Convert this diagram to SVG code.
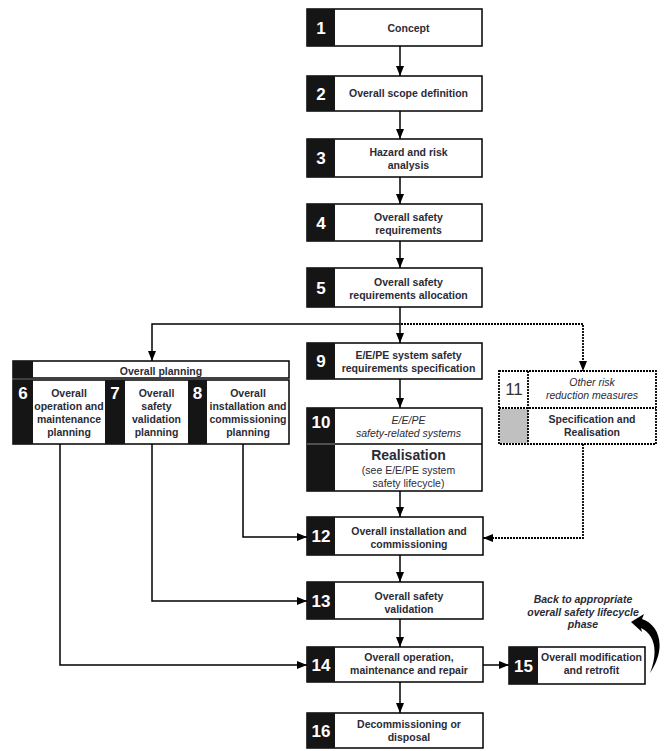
<svg xmlns="http://www.w3.org/2000/svg" width="666" height="751" viewBox="0 0 666 751">
  <style>
    .box { fill: #fff; stroke: #000; stroke-width: 1.5; }
    .blk { fill: #151515; }
    .t { font-family: "Liberation Sans", Arial, sans-serif; font-size: 10.5px; font-weight: bold; fill: #2b2b36; text-anchor: middle; }
    .it { font-family: "Liberation Sans", Arial, sans-serif; font-size: 10.5px; font-style: italic; fill: #2b2b36; text-anchor: middle; }
    .rg { font-family: "Liberation Sans", Arial, sans-serif; font-size: 10.5px; fill: #2b2b36; text-anchor: middle; }
    .n { font-family: "Liberation Sans", Arial, sans-serif; font-size: 17px; font-weight: bold; fill: #fff; text-anchor: middle; }
    .w { fill: none; stroke: #000; stroke-width: 1.5; }
    .d { fill: none; stroke: #000; stroke-width: 1.8; stroke-dasharray: 2 1; }
    .dbox { fill: #fff; stroke: #000; stroke-width: 1.8; stroke-dasharray: 2 1; }
  </style>
  <defs>
    <marker id="ah" markerUnits="userSpaceOnUse" markerWidth="10" markerHeight="10" viewBox="0 0 10 10" refX="10" refY="5" orient="auto">
      <path d="M0,1 L10,5 L0,9 Z" fill="#000"/>
    </marker>
  </defs>
  <rect width="666" height="751" fill="#fff"/>

  <!-- connectors -->
  <g id="connectors">
    <line class="w" x1="400" y1="46" x2="400" y2="76" marker-end="url(#ah)"/>
    <line class="w" x1="400" y1="111" x2="400" y2="139" marker-end="url(#ah)"/>
    <line class="w" x1="400" y1="177" x2="400" y2="204" marker-end="url(#ah)"/>
    <line class="w" x1="400" y1="241" x2="400" y2="268" marker-end="url(#ah)"/>
    <line class="w" x1="400" y1="307" x2="400" y2="343" marker-end="url(#ah)"/>
    <polyline class="w" points="400,324 152,324 152,361" marker-end="url(#ah)"/>
    <polyline class="d" points="401,324 583,324 583,371" marker-end="url(#ah)"/>
    <line class="w" x1="400" y1="379" x2="400" y2="408" marker-end="url(#ah)"/>
    <line class="w" x1="400" y1="491" x2="400" y2="517" marker-end="url(#ah)"/>
    <polyline class="d" points="583,444 583,538 483,538" marker-end="url(#ah)"/>
    <polyline class="w" points="243,444 243,537 307,537" marker-end="url(#ah)"/>
    <polyline class="w" points="152,444 152,601 307,601" marker-end="url(#ah)"/>
    <polyline class="w" points="60,444 60,665 307,665" marker-end="url(#ah)"/>
    <line class="w" x1="400" y1="555" x2="400" y2="582" marker-end="url(#ah)"/>
    <line class="w" x1="400" y1="619" x2="400" y2="647" marker-end="url(#ah)"/>
    <line class="w" x1="483" y1="665" x2="509" y2="665" marker-end="url(#ah)"/>
    <line class="w" x1="400" y1="682" x2="400" y2="713" marker-end="url(#ah)"/>
    <!-- curved return arrow -->
    <path d="M631,622 L644,614 L642,619 C658,624 668,646 650,673 C659,650 654,634 641,628 L642,632 Z" fill="#000"/>
  </g>

  <g id="n1">
    <rect class="box" x="307" y="9" width="175" height="37"/>
    <rect class="blk" x="307" y="9" width="28" height="37"/>
    <text class="n" x="321" y="34">1</text>
    <text class="t" x="408.5" y="32">Concept</text>
  </g>
  <g id="n2">
    <rect class="box" x="307" y="76" width="175" height="35"/>
    <rect class="blk" x="307" y="76" width="28" height="35"/>
    <text class="n" x="321" y="100">2</text>
    <text class="t" x="408.5" y="97">Overall scope definition</text>
  </g>
  <g id="n3">
    <rect class="box" x="307" y="139" width="175" height="38"/>
    <rect class="blk" x="307" y="139" width="28" height="38"/>
    <text class="n" x="321" y="164">3</text>
    <text class="t" x="408.5" y="155.5">Hazard and risk</text>
    <text class="t" x="408.5" y="168.5">analysis</text>
  </g>
  <g id="n4">
    <rect class="box" x="307" y="204" width="175" height="37"/>
    <rect class="blk" x="307" y="204" width="28" height="37"/>
    <text class="n" x="321" y="229">4</text>
    <text class="t" x="408.5" y="221">Overall safety</text>
    <text class="t" x="408.5" y="234">requirements</text>
  </g>
  <g id="n5">
    <rect class="box" x="307" y="268" width="175" height="39"/>
    <rect class="blk" x="307" y="268" width="28" height="39"/>
    <text class="n" x="321" y="294">5</text>
    <text class="t" x="408.5" y="286">Overall safety</text>
    <text class="t" x="408.5" y="299">requirements allocation</text>
  </g>

  <g id="planning">
    <rect class="box" x="13" y="361" width="276" height="17"/>
    <rect class="blk" x="13" y="361" width="20" height="17"/>
    <text class="t" x="161" y="375">Overall planning</text>
    <rect class="box" x="13" y="380" width="276" height="64"/>
    <rect class="blk" x="13" y="380" width="20" height="64"/>
    <rect class="blk" x="105" y="380" width="20" height="64"/>
    <rect class="blk" x="188" y="380" width="19" height="64"/>
  </g>
  <g id="n6">
    <text class="n" x="23" y="399">6</text>
    <text class="t" x="69" y="397">Overall</text>
    <text class="t" x="69" y="410">operation and</text>
    <text class="t" x="69" y="423">maintenance</text>
    <text class="t" x="69" y="436">planning</text>
  </g>
  <g id="n7">
    <text class="n" x="115" y="399">7</text>
    <text class="t" x="156.5" y="397">Overall</text>
    <text class="t" x="156.5" y="410">safety</text>
    <text class="t" x="156.5" y="423">validation</text>
    <text class="t" x="156.5" y="436">planning</text>
  </g>
  <g id="n8">
    <text class="n" x="197.5" y="399">8</text>
    <text class="t" x="248" y="397">Overall</text>
    <text class="t" x="248" y="410">installation and</text>
    <text class="t" x="248" y="423">commissioning</text>
    <text class="t" x="248" y="436">planning</text>
  </g>

  <g id="n9">
    <rect class="box" x="307" y="343" width="175" height="36"/>
    <rect class="blk" x="307" y="343" width="28" height="36"/>
    <text class="n" x="321" y="367">9</text>
    <text class="t" x="408.5" y="359">E/E/PE system safety</text>
    <text class="t" x="408.5" y="372">requirements specification</text>
  </g>

  <g id="n10">
    <rect class="box" x="307" y="408" width="175" height="83"/>
    <rect class="blk" x="307" y="408" width="28" height="83"/>
    <line x1="307" y1="444" x2="335" y2="444" stroke="#777" stroke-width="1.2"/>
    <line x1="335" y1="444" x2="482" y2="444" stroke="#000" stroke-width="1.5"/>
    <text class="n" x="321" y="428">10</text>
    <text class="it" x="408.5" y="424">E/E/PE</text>
    <text class="it" x="408.5" y="437">safety-related systems</text>
    <text class="t" x="408.5" y="460" style="font-size:14px">Realisation</text>
    <text class="rg" x="408.5" y="474">(see E/E/PE system</text>
    <text class="rg" x="408.5" y="487">safety lifecycle)</text>
  </g>

  <g id="n11">
    <rect class="dbox" x="499" y="371" width="157" height="73"/>
    <rect x="500" y="409" width="28" height="34" fill="#c0c0c0"/>
    <line class="d" x1="499" y1="408" x2="656" y2="408"/>
    <line class="d" x1="528" y1="371" x2="528" y2="444"/>
    <text x="514" y="395" style="font-family:'Liberation Sans',Arial,sans-serif;font-size:17px;fill:#333;text-anchor:middle">11</text>
    <text class="it" x="592" y="386">Other risk</text>
    <text class="it" x="592" y="399">reduction measures</text>
    <text class="t" x="592" y="423">Specification and</text>
    <text class="t" x="592" y="436">Realisation</text>
  </g>

  <g id="n12">
    <rect class="box" x="307" y="517" width="176" height="38"/>
    <rect class="blk" x="307" y="517" width="28" height="38"/>
    <text class="n" x="321" y="542">12</text>
    <text class="t" x="409" y="535">Overall installation and</text>
    <text class="t" x="409" y="548">commissioning</text>
  </g>
  <g id="n13">
    <rect class="box" x="307" y="582" width="176" height="37"/>
    <rect class="blk" x="307" y="582" width="28" height="37"/>
    <text class="n" x="321" y="607">13</text>
    <text class="t" x="409" y="600">Overall safety</text>
    <text class="t" x="409" y="613">validation</text>
  </g>
  <g id="n14">
    <rect class="box" x="307" y="647" width="176" height="35"/>
    <rect class="blk" x="307" y="647" width="28" height="35"/>
    <text class="n" x="321" y="671">14</text>
    <text class="t" x="409" y="661">Overall operation,</text>
    <text class="t" x="409" y="674">maintenance and repair</text>
  </g>
  <g id="n15">
    <rect class="box" x="509" y="647" width="136" height="37"/>
    <rect class="blk" x="509" y="647" width="29" height="37"/>
    <text class="n" x="523.5" y="672">15</text>
    <text class="t" x="591.5" y="661">Overall modification</text>
    <text class="t" x="591.5" y="674">and retrofit</text>
  </g>
  <g id="n16">
    <rect class="box" x="307" y="713" width="176" height="35"/>
    <rect class="blk" x="307" y="713" width="28" height="35"/>
    <text class="n" x="321" y="737">16</text>
    <text class="t" x="409" y="728">Decommissioning or</text>
    <text class="t" x="409" y="741">disposal</text>
  </g>

  <g id="back-label">
    <text class="t" x="583" y="603" style="font-style:italic">Back to appropriate</text>
    <text class="t" x="583" y="616" style="font-style:italic">overall safety lifecycle</text>
    <text class="t" x="583" y="628" style="font-style:italic">phase</text>
  </g>
</svg>
